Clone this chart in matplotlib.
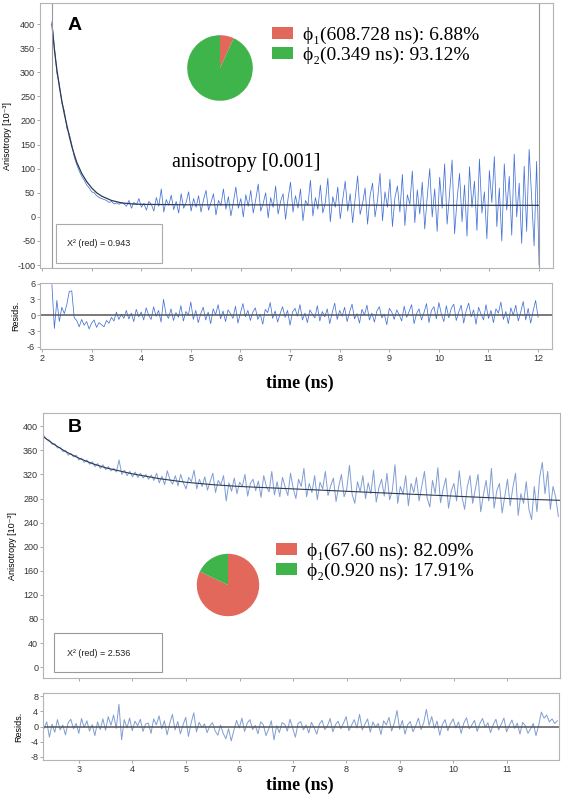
import numpy as np
import matplotlib
matplotlib.use("Agg")
import matplotlib.pyplot as plt
from matplotlib.patches import Rectangle

plt.rcParams["axes.unicode_minus"] = False

# ---------------- panel A ----------------
aniso_a = [405, 352, 298, 275, 236, 220, 184, 172, 150, 124,
           108, 95, 84, 76, 66, 60, 52, 50, 44, 40,
           38, 36, 34, 30, 32, 27, 29, 26, 30, 27,
           22, 34, 18, 30, 25, 38, 20, 28, 14, 32,
           26, 12, 40, 22, 58, 10, 36, 24, 45, 15,
           32, 8, 48, 18, 30, 52, 12, 38, 20, 44,
           10, 36, 55, 14, 30, 48, 4, 34, 24, 58,
           16, 42, 2, 30, 62, 18, 38, 0, 46, 22,
           55, 8, 36, 68, 12, 28, 50, -2, 40, 20,
           64, 6, 32, 48, -5, 38, 72, 10, 44, 18,
           58, -8, 34, 24, 76, 2, 40, 16, 66, 8,
           30, 80, -10, 42, 20, 62, -4, 36, 74, 12,
           48, -12, 38, 85, 5, 28, 60, -15, 44, 70,
           0, 35, 90, -8, 52, 20, 78, -20, 40, 64,
           10, 88, -18, 46, 26, 95, -12, 56, 6, 72,
           -25, 42, 100, 0, 58, -30, 82, 18, 110, -15,
           50, 118, -35, 36, 90, -10, 66, -40, 104, 20,
           74, -28, 120, 8, 52, -45, 96, 30, 125, -20,
           60, -50, 110, 14, 84, -38, 130, 0, 70, -55,
           105, -30, 140, 40, -60, 115, -100]
resid_a = [5.8, -2.5, 2.8, -1.2, 1.5, 0.3, 2.0, 4.5, 4.6, -0.5,
           -1.0, -2.2, -0.8, -1.9, -1.2, -2.6, -1.5, -0.9, -2.3, -1.4,
           -1.8, -2.2, -1.0, -1.5, -0.4, -1.1, 0.6, -0.8, 0.2, -0.6,
           0.9, -0.7, 0.4, -1.2, 1.1, -0.3, 0.6, -0.9, 1.4, 0.0,
           -0.8, 1.6, -0.2, 0.9, -1.3, 3.0, 0.2, -0.6, 1.2, -1.0,
           0.5, -0.4, 1.8, -1.1, 0.7, 0.0, 2.5, -0.8, 0.9, -1.4,
           0.3, 1.5, -0.9, 0.6, -1.6, 1.2, 0.1, 2.0, -0.7, 0.8,
           -1.2, 1.0, 0.3, -0.6, 1.7, -1.5, 0.4, 2.2, -0.3, 0.9,
           -1.0, 0.6, 1.4, -0.8, 0.2, -1.7, 1.1, 0.5, 2.4, -0.6,
           0.8, -1.3, 0.3, 1.6, -0.4, 0.9, -1.9, 0.6, 1.3, -0.2,
           2.0, -0.9, 0.4, -1.4, 1.0, 0.2, -0.5, 1.8, -1.1, 0.7,
           -0.3, 1.2, -1.6, 0.5, 2.3, -0.8, 0.9, -0.2, 1.5, -1.2,
           0.6, 2.1, -0.7, 0.3, -1.5, 1.1, 0.0, 1.9, -0.9, 0.4,
           -1.3, 0.8, 1.6, -0.5, 0.2, -1.8, 1.3, 0.6, -0.8, 1.0,
           0.1, -1.1, 1.7, -0.4, 0.7, 2.0, -1.6, 0.3, 1.2, -0.9,
           0.5, 2.2, -1.4, 0.9, 1.6, -0.7, 2.4, 0.2, -1.2, 1.8,
           -0.5, 1.3, 2.1, -1.0, 0.6, 1.9, -1.5, 0.8, 2.3, -0.3,
           1.0, -1.7, 1.5, 0.2, -0.9, 2.0, -0.6, 0.9, -1.4, 1.2,
           0.4, 2.5, -0.8, 0.7, -1.6, 1.4, 0.0, 1.9, -1.1, 0.6,
           2.6, -0.9, 1.3, -1.5, 0.8, 2.8, -0.4]
fit_a_t = [2.2, 2.25, 2.3, 2.35, 2.4, 2.45, 2.5, 2.55, 2.6, 2.65, 2.7, 2.8,
           2.9, 3.0, 3.1, 3.2, 3.4, 3.6, 3.8, 4.0, 5.0, 6.0, 8.0, 10.0, 12.0]
fit_a = [400, 347, 305, 270, 240, 213, 190, 167, 146, 129, 113, 90,
         73, 60, 50, 43, 34, 29, 27, 26, 25, 25, 24.5, 24, 24]
pie_a = [6.88, 93.12]
labels_a = ["ϕ₁(608.728 ns): 6.88%", "ϕ₂(0.349 ns): 93.12%"]
chi_a = "X² (red) = 0.943"

# ---------------- panel B ----------------
aniso_b = [384, 378, 377, 370, 371, 364, 365, 358, 360, 352,
           355, 349, 352, 344, 347, 340, 344, 337, 341, 333,
           338, 330, 336, 328, 333, 326, 330, 324, 344, 320,
           327, 318, 325, 316, 324, 315, 322, 314, 320, 312,
           319, 310, 322, 306, 317, 303, 326, 311, 304, 318,
           301, 320, 306, 296, 315, 308, 327, 296, 312, 300,
           316, 294, 308, 322, 290, 310, 303, 318, 276, 306,
           292, 314, 288, 307, 300, 320, 284, 305, 312, 293,
           309, 282, 318, 300, 291, 325, 286, 308, 283, 315,
           299, 285, 322, 297, 280, 312, 300, 330, 283, 305,
           290, 318, 278, 307, 296, 325, 285, 301, 314, 275,
           300, 320, 283, 296, 335, 287, 272, 308, 291, 318,
           280, 306, 288, 327, 274, 298, 312, 284, 322, 278,
           293, 336, 272, 300, 287, 318, 268, 305, 290, 315,
           276, 300, 325, 281, 266, 310, 288, 331, 273, 296,
           314, 264, 292, 305, 276, 326, 283, 262, 300, 318,
           272, 296, 320, 258, 286, 310, 276, 330, 264, 293,
           305, 256, 284, 312, 268, 298, 322, 252, 288, 272,
           308, 262, 245, 300, 258, 315, 340, 288, 325, 262,
           300, 282, 250]
resid_b = [-0.5, 1.2, -2.8, 0.6, -1.5, 1.8, -0.9, 0.4, -2.2, 1.0,
           1.9, -0.6, 0.8, -1.8, 2.1, -0.3, 1.5, -1.2, 0.5, -2.4,
           1.2, -0.8, 2.0, -1.0, 2.6, 0.3, 3.0, -0.5, 5.8, -3.5,
           1.8, -0.4, 2.2, -1.1, 1.4, 0.2, 1.9, -1.3, 0.7, 0.9,
           -1.8, 2.0, 0.4, 2.8, -0.6, 1.5, -2.2, 0.8, 3.2, -0.9,
           1.3, -1.9, 0.5, 2.4, -2.6, 0.9, 3.6, -1.4, 1.1, -0.3,
           0.7, -1.6, 0.2, 1.0, -1.2, -2.3, 0.4, -1.8, -3.2, -0.6,
           -3.8, -1.0, 1.6, -0.4, 2.2, -1.3, 0.9, 1.8, -0.8, 0.3,
           -1.9, 1.2, 0.5, -2.4, -0.7, 1.5, -3.5, 0.2, -1.6, 1.0,
           0.6, -1.2, 1.9, -0.5, -2.8, 0.8, 1.3, -0.9, 0.4, -1.7,
           1.1, -0.3, -2.0, 0.7, 1.6, -0.8, 0.2, 2.1, -1.4, 0.5,
           1.4, -0.6, 0.9, 2.6, -1.1, 0.3, 1.8, -0.4, 3.2, -0.9,
           0.6, 2.0, -1.5, 1.2, -0.2, 0.8, -2.1, 1.5, 0.4, 2.4,
           -1.2, 0.9, 4.2, -0.7, 1.6, -2.0, 0.5, 1.3, -1.4, 0.2,
           2.2, -0.8, 1.0, 4.5, 0.3, 2.6, -0.5, 1.4, -2.3, 0.6,
           1.8, -1.1, 0.7, 2.0, -0.4, 1.2, -1.8, 0.9, 2.3, -0.6,
           0.4, 1.6, -1.3, 0.8, 2.1, -0.2, 1.0, -1.6, 0.5, 1.9,
           -0.9, 0.6, 2.2, -1.4, 0.3, 1.7, -0.5, 0.9, -2.0, 1.1,
           0.2, -1.8, -0.6, 0.8, -2.4, 0.3, 3.8, 2.2, 3.0, 1.2,
           2.0, 0.8, 1.5]
fit_b_t = [2.33, 2.5, 2.75, 3.0, 3.25, 3.5, 4.0, 4.5, 5.0, 5.5, 6.0, 7.0,
           8.0, 9.0, 10.0, 11.0, 11.98]
fit_b = [383, 372, 358, 347, 338, 331, 321, 313, 307, 303, 300, 296,
         292, 288, 284, 280, 277]
pie_b = [82.09, 17.91]
labels_b = ["ϕ₁(67.60 ns): 82.09%", "ϕ₂(0.920 ns): 17.91%"]
chi_b = "X² (red) = 2.536"

t_a = np.linspace(2.2, 12.0, len(aniso_a))
t_b = np.linspace(2.35, 11.95, len(aniso_b))

pie_colors = ["#e2685c", "#3eb44b"]
blue_a = "#4472d6"
blue_b = "#809ed2"
fitcol = "#2e3850"
framecol = "#b4b4b4"
serif = ["Liberation Serif", "DejaVu Serif"]
sans = ["Liberation Sans", "DejaVu Sans"]

W, H = 562, 797
fig = plt.figure(figsize=(W / 100, H / 100), dpi=100)


def box(l, t, r, b):
    return [l / W, 1 - b / H, (r - l) / W, (b - t) / H]


def style(ax, yticks):
    for s in ax.spines.values():
        s.set_color(framecol)
        s.set_linewidth(0.8)
    ax.set_yticks(yticks)
    ax.tick_params(labelsize=6.5, length=2, width=0.6, color="#999999",
                   labelcolor="#333333", pad=1.5)
    for lab in ax.get_xticklabels() + ax.get_yticklabels():
        lab.set_family(sans)


# panel A main
ax1 = fig.add_axes(box(40, 3, 553, 268))
ax1.plot(t_a, aniso_a, color=blue_a, lw=0.55)
ax1.plot(fit_a_t, fit_a, color=fitcol, lw=0.9)
ax1.axvline(2.2, color="#999999", lw=0.8)
ax1.axvline(12.0, color="#999999", lw=0.8)
ax1.set_xlim(1.96, 12.28)
ax1.set_ylim(-106, 443.6)
ax1.set_xticks(range(2, 13))
ax1.set_xticklabels([])
style(ax1, range(-100, 401, 50))
ax1.set_ylabel("Anisotropy [10⁻³]", fontsize=6.5, family=sans, labelpad=4)
ax1.text(0.068, 0.915, "A", transform=ax1.transAxes, fontsize=14,
         fontweight="bold", family=sans, ha="center", va="center")
ax1.text(0.257, 0.40, "anisotropy [0.001]", transform=ax1.transAxes,
         fontsize=14.5, family=serif, va="center")
ax1.add_patch(Rectangle((16 / 513, 5 / 265), 106 / 513, 39 / 265,
                        transform=ax1.transAxes, fill=False,
                        ec="#aaaaaa", lw=0.8))
ax1.text(27 / 513, 24 / 265, chi_a, transform=ax1.transAxes,
         fontsize=6.5, family=sans, va="center", color="#222222")

pa = fig.add_axes(box(179, 27, 261, 109))
wa, _ = pa.pie(pie_a, colors=pie_colors, startangle=90, counterclock=False,
               wedgeprops=dict(linewidth=0))
pa.set_aspect("equal")
fig.legend(wa, labels_a, loc="upper left",
           bbox_to_anchor=(262 / W, 1 - 17 / H), frameon=False,
           prop=dict(family=serif, size=14), borderpad=0,
           handlelength=1.1, handleheight=0.55, handletextpad=0.5,
           labelspacing=0.12)

# panel A residuals
ax2 = fig.add_axes(box(40, 283, 552, 349))
ax2.plot(t_a, resid_a, color=blue_a, lw=0.55)
ax2.axhline(0, color="#555555", lw=1.1)
ax2.set_xlim(1.96, 12.28)
ax2.set_ylim(-6.4, 6.1)
ax2.set_xticks(range(2, 13))
style(ax2, [-6, -3, 0, 3, 6])
ax2.set_ylabel("Resids.", fontsize=6.5, family=sans, labelpad=5)
fig.text(300 / W, 1 - 383 / H, "time (ns)", fontsize=13, fontweight="bold",
         family=serif, ha="center", va="center")

# panel B main
ax3 = fig.add_axes(box(43, 413, 560, 678))
ax3.plot(t_b, aniso_b, color=blue_b, lw=0.7)
ax3.plot(fit_b_t, fit_b, color=fitcol, lw=0.8)
ax3.set_xlim(2.33, 11.98)
ax3.set_ylim(-18, 422)
ax3.set_xticks(range(3, 12))
ax3.set_xticklabels([])
style(ax3, range(0, 401, 40))
ax3.set_ylabel("Anisotropy [10⁻³]", fontsize=6.5, family=sans, labelpad=4)
ax3.text(0.062, 0.945, "B", transform=ax3.transAxes, fontsize=14,
         fontweight="bold", family=sans, ha="center", va="center")
ax3.add_patch(Rectangle((11 / 517, 6 / 265), 108 / 517, 39 / 265,
                        transform=ax3.transAxes, fill=False,
                        ec="#999999", lw=0.8))
ax3.text(24 / 517, 25 / 265, chi_b, transform=ax3.transAxes,
         fontsize=6.5, family=sans, va="center", color="#222222")

pb = fig.add_axes(box(189, 546, 267, 624))
wb, _ = pb.pie(pie_b, colors=pie_colors, startangle=90, counterclock=False,
               wedgeprops=dict(linewidth=0))
pb.set_aspect("equal")
fig.legend(wb, labels_b, loc="upper left",
           bbox_to_anchor=(266 / W, 1 - 533 / H), frameon=False,
           prop=dict(family=serif, size=14), borderpad=0,
           handlelength=1.1, handleheight=0.55, handletextpad=0.5,
           labelspacing=0.12)

# panel B residuals
ax4 = fig.add_axes(box(43, 693, 559, 760))
ax4.plot(t_b, resid_b, color=blue_b, lw=0.7)
ax4.axhline(0, color="#555555", lw=1.1)
ax4.set_xlim(2.33, 11.98)
ax4.set_ylim(-8.8, 8.8)
ax4.set_xticks(range(3, 12))
style(ax4, [-8, -4, 0, 4, 8])
ax4.set_ylabel("Resids.", fontsize=6.5, family=sans, labelpad=5)
fig.text(300 / W, 1 - 785 / H, "time (ns)", fontsize=13, fontweight="bold",
         family=serif, ha="center", va="center")

fig.savefig("out.png", dpi=100)
